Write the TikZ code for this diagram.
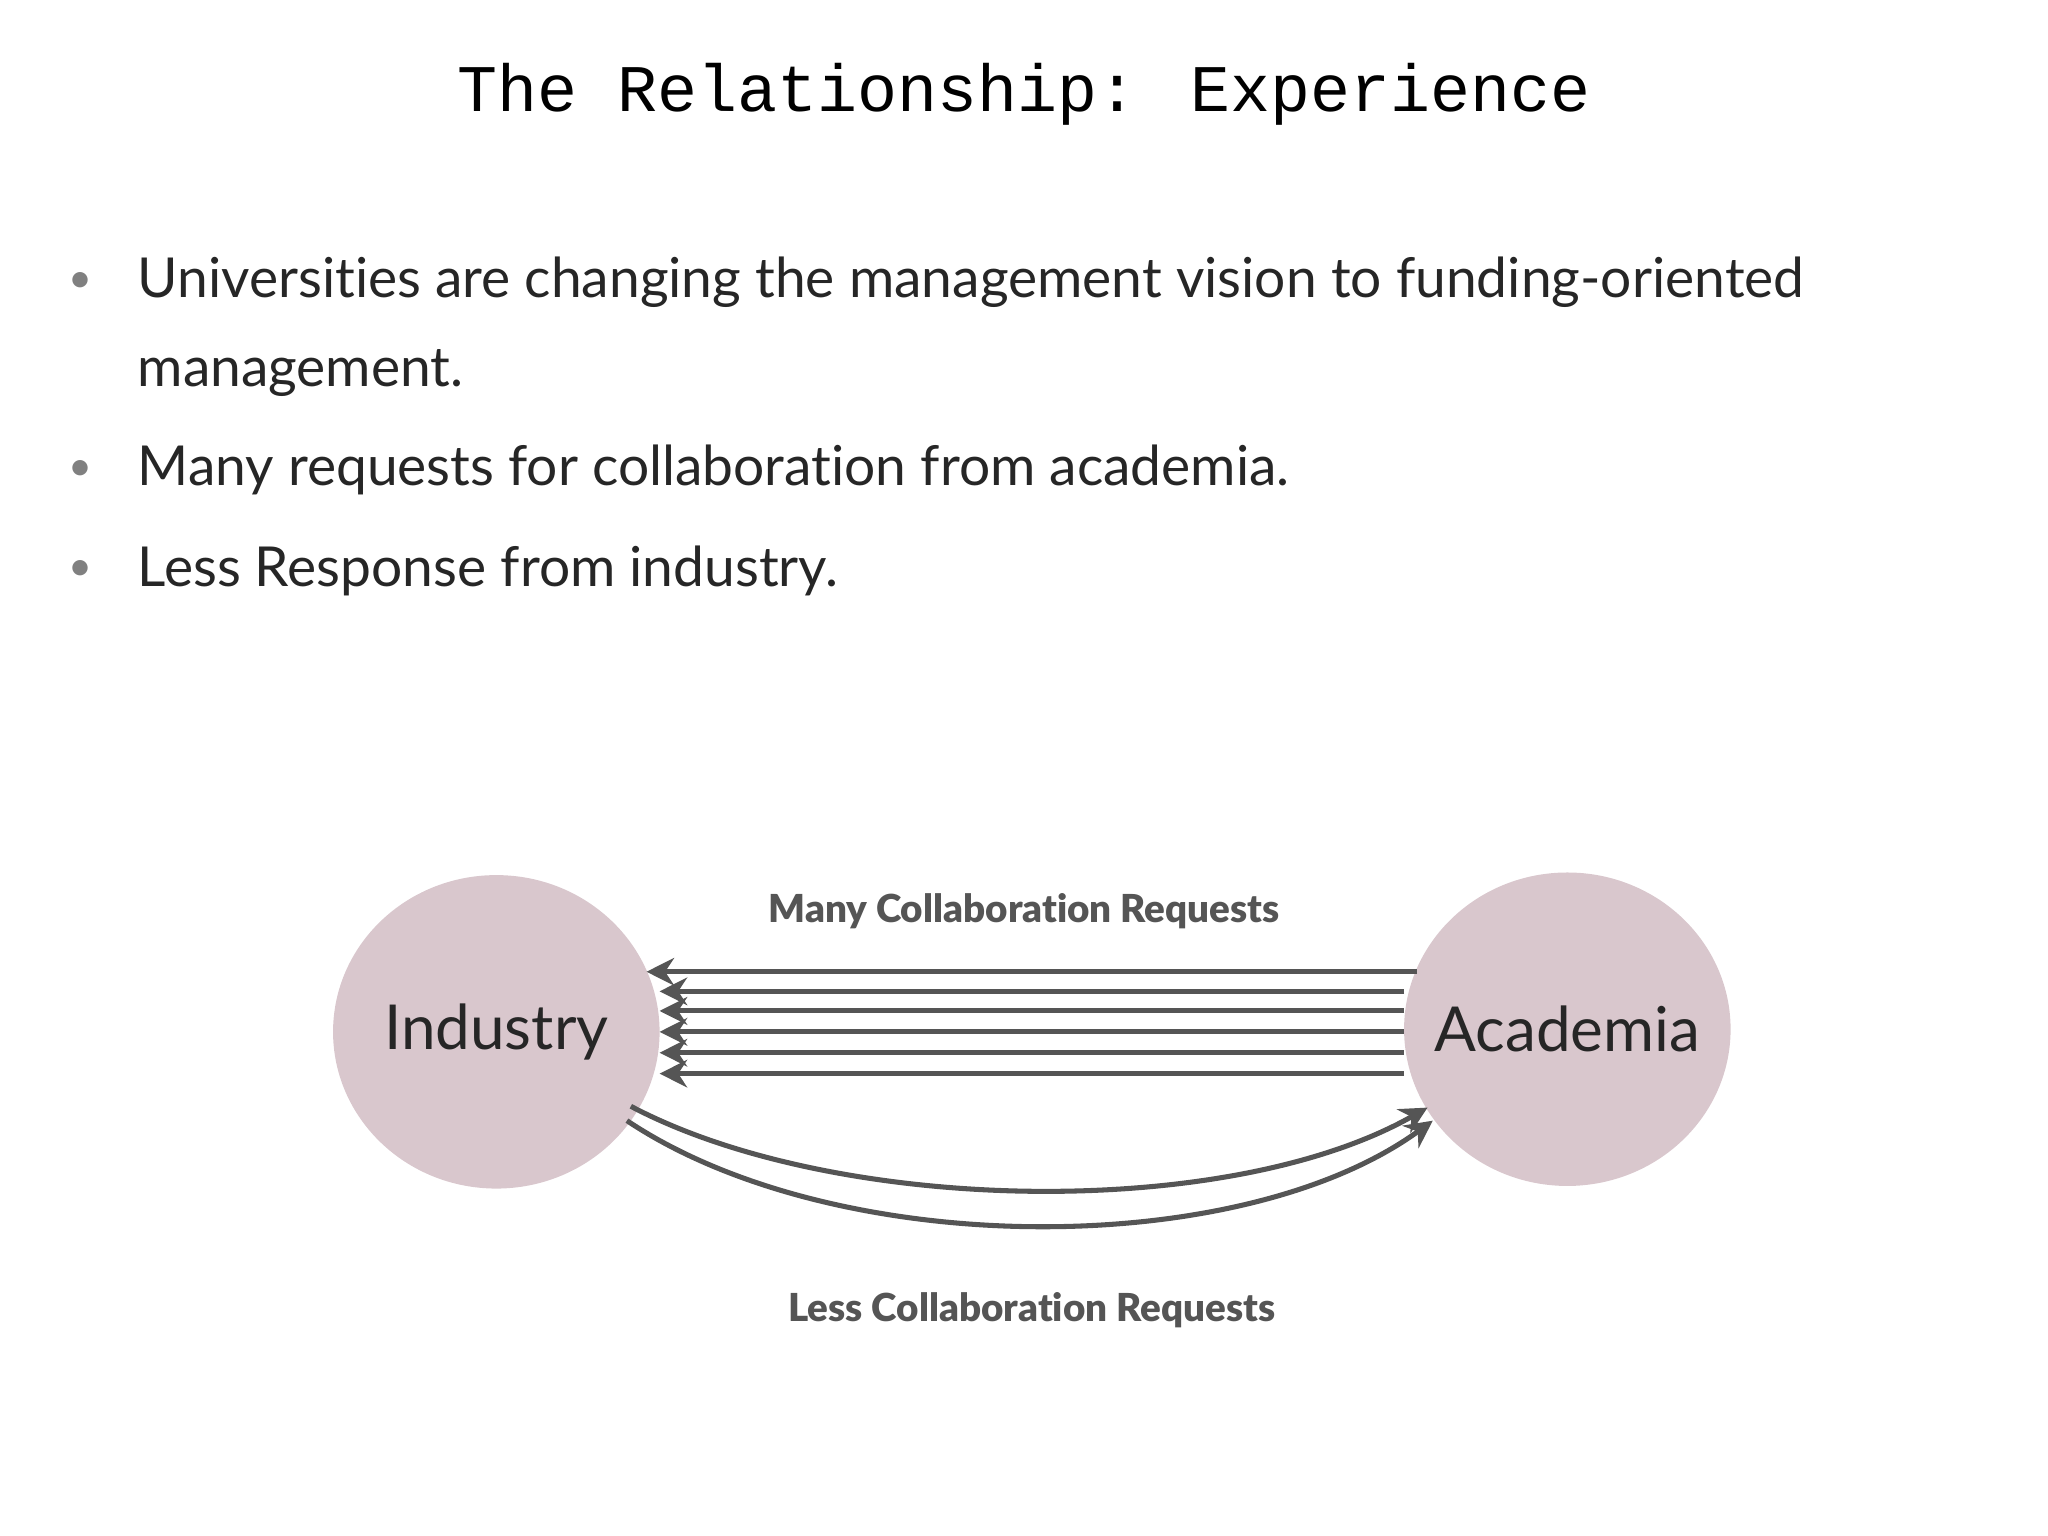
\documentclass[tikz,border=0pt]{standalone}
\usepackage{fontspec}
\setmainfont{Lato}[RawFeature=-liga]
\newfontfamily\titlefont{Liberation Mono}
\newfontfamily\labfont{Lato Black}[RawFeature=-liga]
\usetikzlibrary{arrows.meta}
\definecolor{circ}{HTML}{D9C7CD}
\definecolor{arr}{HTML}{555555}
\tikzset{
  conn/.style={draw=arr,line width=1.1pt,-{Stealth[length=6pt,width=6pt]}},
  lab/.style={font=\labfont\fontsize{8.4}{10}\selectfont,text=arr},
  bul/.style={anchor=base west,font=\fontsize{12}{14}\selectfont,text=black!85}
}
\begin{document}
\begin{tikzpicture}[x=0.01cm,y=-0.01cm]
\useasboundingbox (0,0) rectangle (1568,1176);
\node[font=\titlefont\fontsize{14.5}{17}\selectfont] (title) at (784,72) {The Relationship: Experience};
\foreach \yy in {228,372,449}{\node[text=gray,font=\small] at (62,\yy-12) {\textbullet};}
\node[bul] (b1) at (93,228) {Universities are changing the management vision to funding-oriented};
\node[bul] (b1b) at (93,296) {management.};
\node[bul] (b2) at (93,372) {Many requests for collaboration from academia.};
\node[bul] (b3) at (93,449) {Less Response from industry.};
\fill[circ] (380,790) ellipse (125 and 120);
\fill[circ] (1200,788) ellipse (125 and 120);
\coordinate (I) at (380,790);
\coordinate (A) at (1200,788);
\node[font=\fontsize{13.5}{16}\selectfont,text=black!85] (ind) at (I) {Industry};
\node[font=\fontsize{13.5}{16}\selectfont,text=black!85] (aca) at (A) {Academia};
\node[lab] (many) at (784,698) {Many Collaboration Requests};
\node[lab] (less) at (790,1003) {Less Collaboration Requests};
\coordinate (s0) at (1085,744); \coordinate (e0) at (495,744);
\draw[conn] (s0) -- (e0);
\foreach \yy in {759,774,790,806,822}{
  \coordinate (s) at (1075,\yy); \coordinate (e) at (505,\yy);
  \draw[conn] (s) -- (e);}
\coordinate (c1s) at (483,847); \coordinate (c1e) at (1093,848);
\coordinate (c2s) at (480,858); \coordinate (c2e) at (1097,858);
\draw[conn] (c1s) .. controls (640,930) and (940,935) .. (c1e);
\draw[conn] (c2s) .. controls (640,965) and (950,965) .. (c2e);
\end{tikzpicture}
\end{document}
